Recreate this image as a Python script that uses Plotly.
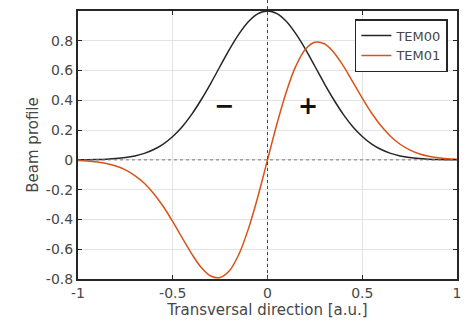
import plotly.graph_objects as go

x_vals = [-1.0, -0.95, -0.9, -0.85, -0.8, -0.75, -0.7, -0.65, -0.6, -0.55, -0.5,
          -0.45, -0.4, -0.35, -0.3, -0.25, -0.2, -0.15, -0.1, -0.05, 0.0,
          0.05, 0.1, 0.15, 0.2, 0.25, 0.3, 0.35, 0.4, 0.45, 0.5,
          0.55, 0.6, 0.65, 0.7, 0.75, 0.8, 0.85, 0.9, 0.95, 1.0]

tem00_half = [0.0006, 0.0012, 0.0025, 0.0047, 0.0087, 0.0155, 0.0265, 0.0437, 0.0695, 0.106, 0.157,
              0.223, 0.306, 0.404, 0.513, 0.629, 0.744, 0.846, 0.929, 0.982]
tem00 = tem00_half + [1.0] + tem00_half[::-1]

tem01_pos = [0.243, 0.460, 0.631, 0.743, 0.790, 0.780, 0.722, 0.631, 0.524, 0.415,
             0.313, 0.227, 0.157, 0.105, 0.067, 0.041, 0.024, 0.014, 0.0075, 0.004]
tem01 = [-v for v in tem01_pos[::-1]] + [0.0] + tem01_pos

x_ticks = [-1, -0.5, 0, 0.5, 1]
x_tick_text = ["-1", "-0.5", "0", "0.5", "1"]
y_ticks = [-0.8, -0.6, -0.4, -0.2, 0, 0.2, 0.4, 0.6, 0.8]
y_tick_text = ["-0.8", "-0.6", "-0.4", "-0.2", "0", "0.2", "0.4", "0.6", "0.8"]

sign_labels = ["\u2212", "+"]
sign_x = [-0.23, 0.215]
sign_y = [0.36, 0.365]

txt = "#474747"
axc = "#262626"
font = "DejaVu Sans"

fig = go.Figure()
fig.add_trace(go.Scatter(x=x_vals, y=tem00, mode="lines", name="TEM00",
                         line=dict(color="#262626", width=1.5, shape="spline")))
fig.add_trace(go.Scatter(x=x_vals, y=tem01, mode="lines", name="TEM01",
                         line=dict(color="#D95319", width=1.5, shape="spline")))

# reference lines
fig.add_shape(type="line", xref="x", yref="paper", x0=0, x1=0, y0=0, y1=1.045,
              line=dict(color="#444444", width=1, dash="dot"), layer="above")
fig.add_shape(type="line", xref="paper", yref="y", x0=0, x1=1, y0=0, y1=0,
              line=dict(color="#777777", width=1, dash="3px,3px"), layer="above")

for s, sx, sy in zip(sign_labels, sign_x, sign_y):
    fig.add_annotation(x=sx, y=sy, text="<b>" + s + "</b>", showarrow=False,
                       font=dict(family=font, size=24, color="#111111"))

fig.update_layout(
    width=469, height=321,
    margin=dict(l=78, r=12, t=11, b=42),
    plot_bgcolor="white", paper_bgcolor="white",
    font=dict(family=font, size=14, color=txt),
    showlegend=True,
    legend=dict(x=0.976, y=0.97, xanchor="right", yanchor="top",
                bgcolor="white", bordercolor=axc, borderwidth=1.5,
                font=dict(family=font, size=13, color=txt),
                itemwidth=30, tracegroupgap=0),
)
fig.update_xaxes(range=[-1, 1], tickvals=x_ticks, ticktext=x_tick_text, automargin=False,
                 showgrid=True, gridcolor="#e3e3e3", gridwidth=1,
                 zeroline=False, showline=True, linecolor=axc, linewidth=2, mirror="ticks",
                 ticks="inside", ticklen=4, tickcolor=axc,
                 title=dict(text="Transversal direction [a.u.]", standoff=1,
                            font=dict(family=font, size=15, color=txt)),
                 tickfont=dict(family=font, size=14, color=txt))
fig.update_yaxes(range=[-0.8, 1.0], tickvals=y_ticks, ticktext=y_tick_text, automargin=False,
                 showgrid=True, gridcolor="#e3e3e3", gridwidth=1,
                 zeroline=False, showline=True, linecolor=axc, linewidth=2, mirror="ticks",
                 ticks="inside", ticklen=4, tickcolor=axc,
                 title=dict(text="Beam profile", standoff=4,
                            font=dict(family=font, size=15, color=txt)),
                 tickfont=dict(family=font, size=14, color=txt))

fig.write_html("out.html", config={"displayModeBar": False},
               post_script="document.body.style.margin='0';document.body.style.overflow='hidden';")
